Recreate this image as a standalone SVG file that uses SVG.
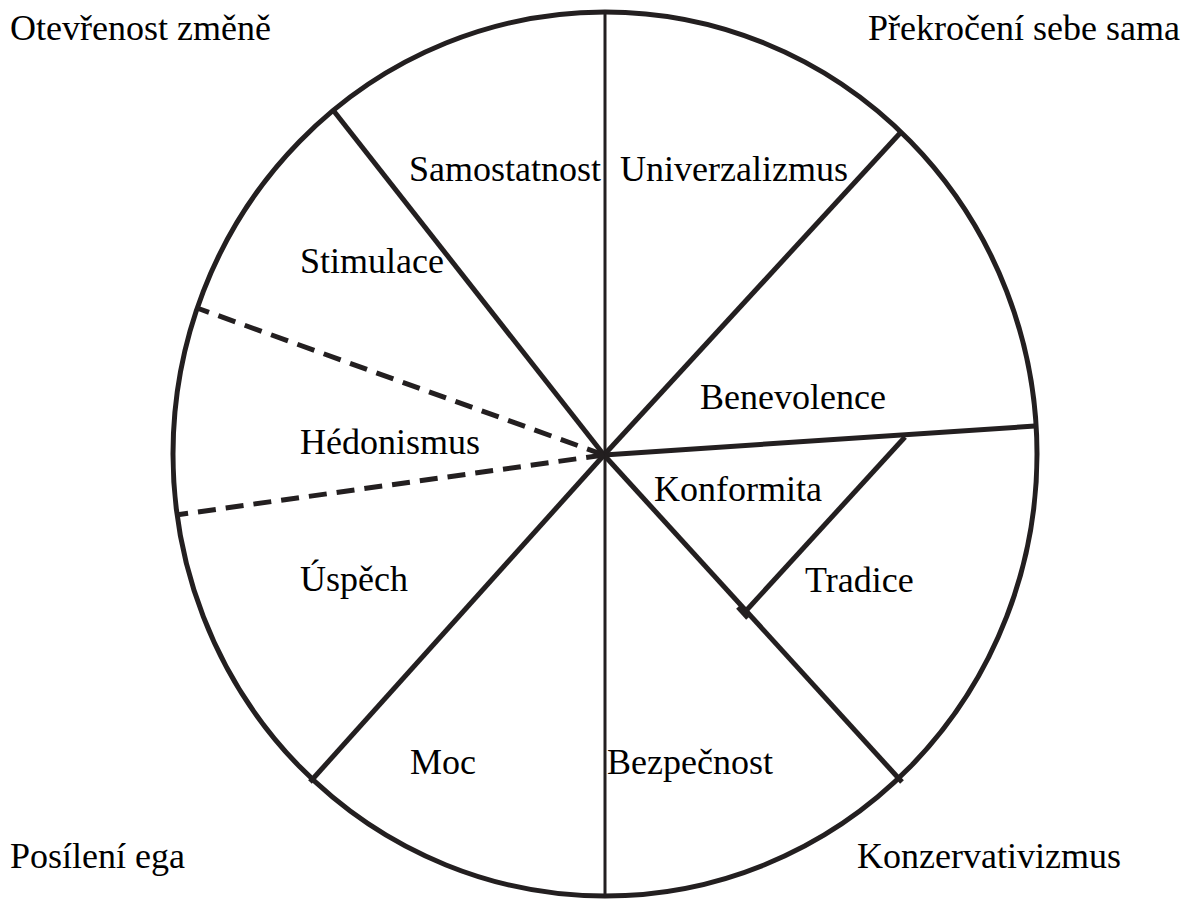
<svg xmlns="http://www.w3.org/2000/svg" width="1183" height="899" viewBox="0 0 1183 899">
<style>
.t{font-family:'Liberation Serif','Times New Roman',serif;font-size:36px;fill:#000}
.s{stroke:#231f20;stroke-width:5;fill:none;stroke-linecap:butt}
.d{stroke:#231f20;stroke-width:5;fill:none;stroke-dasharray:18 10}
</style>
<rect width="1183" height="899" fill="#fff"/>
<g id="wheel">
<ellipse class="s" cx="605" cy="454" rx="432" ry="442"/>
</g>
<g id="connectors">
<line class="s" x1="605" y1="12" x2="605" y2="896" style="stroke-width:3"/>
<line class="s" x1="604" y1="455" x2="333" y2="110"/>
<line class="s" x1="604" y1="455" x2="902" y2="131"/>
<line class="s" x1="604" y1="455" x2="1035" y2="426"/>
<line class="s" x1="604" y1="455" x2="902" y2="782"/>
<line class="s" x1="604" y1="455" x2="310" y2="782"/>
<line class="d" x1="604" y1="455" x2="197" y2="308"/>
<line class="d" x1="604" y1="455" x2="176" y2="515"/>
<line class="s" x1="905" y1="437" x2="744" y2="613"/>
<line class="s" x1="738" y1="607" x2="748" y2="618"/>
</g>
<g id="labels">
<text class="t" x="10" y="40">Otevřenost změně</text>
<text class="t" x="868" y="40">Překročení sebe sama</text>
<text class="t" x="10" y="868">Posílení ega</text>
<text class="t" x="857" y="868">Konzervativizmus</text>
</g>
<g id="n-samostatnost"><text class="t" x="409" y="181">Samostatnost</text></g>
<g id="n-univerzalizmus"><text class="t" x="620" y="181">Univerzalizmus</text></g>
<g id="n-stimulace"><text class="t" x="300" y="273">Stimulace</text></g>
<g id="n-benevolence"><text class="t" x="700" y="409">Benevolence</text></g>
<g id="n-hedonismus"><text class="t" x="300" y="454">Hédonismus</text></g>
<g id="n-konformita"><text class="t" x="654" y="501">Konformita</text></g>
<g id="n-uspech"><text class="t" x="300" y="591">Úspěch</text></g>
<g id="n-tradice"><text class="t" x="805" y="592">Tradice</text></g>
<g id="n-moc"><text class="t" x="410" y="774">Moc</text></g>
<g id="n-bezpecnost"><text class="t" x="607" y="774">Bezpečnost</text></g>
</svg>
